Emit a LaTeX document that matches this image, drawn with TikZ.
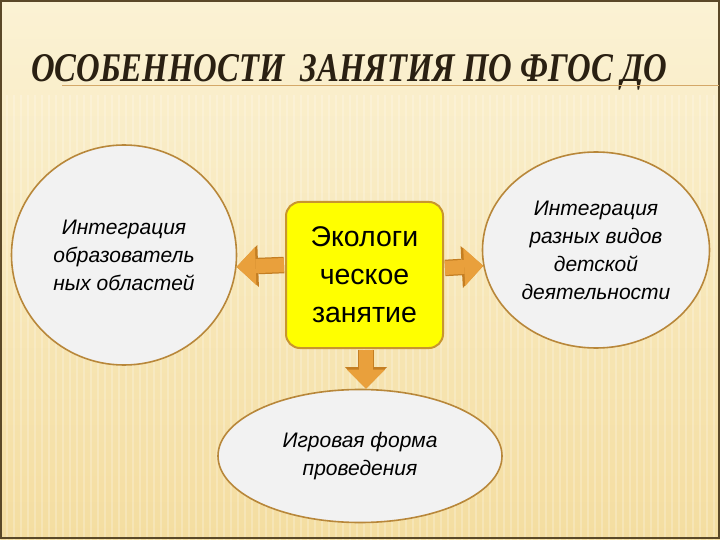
\documentclass[tikz,border=0pt]{standalone}
\usepackage{fontspec}
\setmainfont{Liberation Sans}
\newfontfamily\titlefont{Liberation Serif}
\usetikzlibrary{shapes.geometric,arrows.meta}
\definecolor{bgtop}{HTML}{FBF2D4}
\definecolor{bgbot}{HTML}{F4DDA0}
\definecolor{framecol}{HTML}{5A4828}
\definecolor{titlecol}{HTML}{2A2012}
\definecolor{linecol}{HTML}{D4A868}
\definecolor{bubblefill}{HTML}{F2F2F2}
\definecolor{bubbleedge}{HTML}{B8873A}
\definecolor{boxfill}{HTML}{FFFF00}
\definecolor{boxedge}{HTML}{C8962E}
\definecolor{arrowfill}{HTML}{E9A03C}
\definecolor{arrowedge}{HTML}{C47E22}
\tikzset{
  bubble/.style={ellipse, draw=bubbleedge, line width=1.6pt, fill=bubblefill,
    inner sep=0pt, align=center, text=black, font=\itshape\fontsize{21}{28}\selectfont},
  centerbox/.style={rectangle, rounded corners=14pt, draw=boxedge, line width=2pt,
    fill=boxfill, inner sep=0pt, align=center, text=black, font=\fontsize{28.5}{38}\selectfont},
  barrow/.style={line width=14pt, draw=arrowfill,
    -{Triangle[length=19pt,width=38pt,line width=0pt]},
    preaction={draw=arrowedge, line width=16.5pt,
      -{Triangle[length=21.5pt,width=42pt,line width=0pt]}}}
}
\begin{document}
\begin{tikzpicture}[x=1pt,y=-1pt]
\useasboundingbox (0,0) rectangle (720,540);
% background
\shade[top color=bgtop, bottom color=bgbot] (0,0) rectangle (720,540);
\foreach \x in {0,7,...,720} {
  \draw[white, opacity=0.22, line width=2.2pt] (\x,95) -- (\x,540);
}
\draw[framecol, line width=1.5pt] (1,1) rectangle (719,538);
% title
\node[anchor=base west, inner sep=0pt, text=titlecol] (title) at (31,82)
  {\resizebox{636pt}{27pt}{\titlefont\bfseries\itshape ОСОБЕННОСТИ\ \ ЗАНЯТИЯ ПО ФГОС ДО}};
\draw[linecol, line width=0.9pt] (62,85) -- (719,85);
% nodes
\node[bubble, minimum width=225pt, minimum height=220pt] (lc) at (124,255)
  {Интеграция\\образователь\\ных областей};
\node[bubble, minimum width=227pt, minimum height=196pt] (rc) at (596,250)
  {Интеграция\\разных видов\\детской\\деятельности};
\node[bubble, minimum width=284pt, minimum height=133pt] (be) at (360,456)
  {Игровая форма\\проведения};
\node[centerbox, minimum width=157pt, minimum height=146pt] (ctr) at (364.5,275)
  {Экологи\\ческое\\занятие};
% arrows
\draw[barrow, shorten <=1pt] ([yshift=10pt]ctr.west) -- (lc.-6);
\draw[barrow, shorten <=1pt] ([yshift=7pt]ctr.east) -- (rc.188);
\draw[barrow, shorten <=1pt] ([xshift=1.5pt]ctr.south) -- ([xshift=1.5pt]ctr.south |- be.north);
\end{tikzpicture}
\end{document}
